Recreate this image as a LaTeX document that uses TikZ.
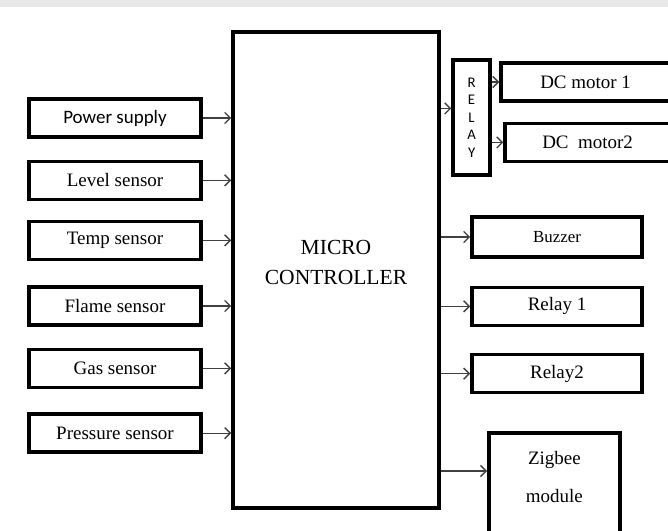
\documentclass[tikz,border=0pt]{standalone}
\usepackage{fontspec}
\setmainfont{Liberation Serif}
\newfontfamily\calfont{Carlito}
\usetikzlibrary{arrows.meta,positioning,calc}
\tikzset{
  blk/.style={draw,line width=2.5pt,align=center,font=\fontsize{13.5}{16}\selectfont,minimum height=0.95cm,inner sep=2pt},
  arr/.style={-{Straight Barb[length=1.4mm,width=2.8mm]},line width=1pt,draw=black!75}
}
\begin{document}
\begin{tikzpicture}
\useasboundingbox (0,0) rectangle (16.7,-13.275);
\clip (0,0) rectangle (16.7,-13.275);
\fill[black!9] (0,0) rectangle (16.7,-0.175);
\node[blk,minimum width=5.15cm,minimum height=11.9cm,text depth=0.4cm,font=\fontsize{15.3}{21.3}\selectfont] (mc) at (8.4,-6.75) {MICRO\\CONTROLLER};
\node[blk,minimum width=4.3cm] (ps) at (2.875,-2.95) {\calfont Power supply};
\node[blk,minimum width=4.3cm] (ls) at (2.875,-4.51) {Level sensor};
\node[blk,minimum width=4.3cm] (ts) at (2.875,-6.01) {Temp sensor};
\node[blk,minimum width=4.3cm] (fs) at (2.875,-7.65) {Flame sensor};
\node[blk,minimum width=4.3cm] (gs) at (2.875,-9.21) {Gas sensor};
\node[blk,minimum width=4.3cm] (prs) at (2.875,-10.83) {Pressure sensor};
\node[blk,minimum width=0.925cm,minimum height=2.875cm,font=\calfont\fontsize{10.5}{12.4}\selectfont] (rl) at (11.79,-2.94) {R\\E\\L\\A\\Y};
\node[blk,minimum width=4.225cm] (m1) at (14.64,-2.05) {DC motor 1};
\node[blk,minimum width=4.125cm] (m2) at (14.69,-3.56) {DC\ \ motor2};
\node[blk,minimum width=4.25cm,minimum height=1cm,font=\fontsize{12}{14}\selectfont] (bz) at (13.925,-5.925) {Buzzer};
\node[blk,minimum width=4.25cm] (r1) at (13.925,-7.66) {Relay 1};
\node[blk,minimum width=4.25cm] (r2) at (13.925,-9.34) {Relay2};
\node[blk,anchor=north,minimum width=3.275cm,inner ysep=0.475cm,text depth=1cm,font=\fontsize{13.5}{27}\selectfont] (zb) at (13.86,-10.775) {Zigbee\\module};
\coordinate (rin) at ($(rl.west)+(0,0.23)$);
\coordinate (zin) at ($(zb.north west)+(0,-1)$);
\foreach \s in {ps,ls,ts,fs,gs,prs} \draw[arr] (\s.east) -- (\s.east -| mc.west);
\draw[arr] (mc.east |- rin) -- (rin);
\draw[arr] (rl.east |- m1.west) -- (m1.west);
\draw[arr] (rl.east |- m2.west) -- (m2.west);
\foreach \s in {bz,r1,r2} \draw[arr] (mc.east |- \s.west) -- (\s.west);
\draw[arr] (mc.east |- zin) -- (zin);
\end{tikzpicture}
\end{document}
